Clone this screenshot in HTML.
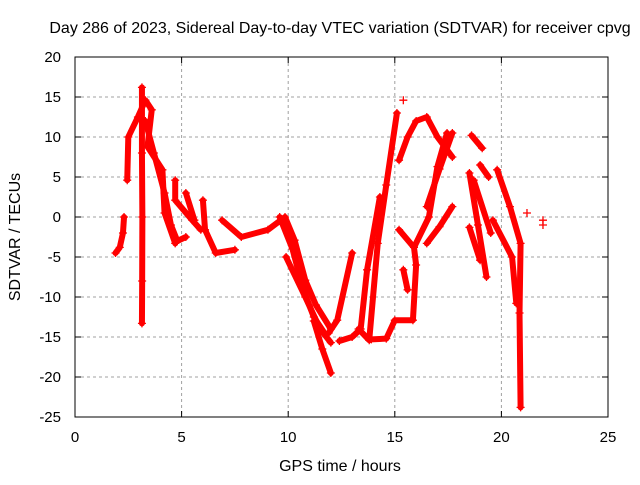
<!DOCTYPE html>
<html><head><meta charset="utf-8"><style>
body{margin:0;background:#fff;}
svg text{font-family:"Liberation Sans",sans-serif;font-size:15px;fill:#000;}
svg text.big{font-size:16px;}
</style></head><body>
<svg id="chart" width="640" height="480">
<text class="big" x="340" y="33" text-anchor="middle">Day 286 of 2023, Sidereal Day-to-day VTEC variation (SDTVAR) for receiver cpvg</text>
<text class="big" x="340" y="471" text-anchor="middle">GPS time / hours</text>
<text class="big" transform="translate(20,237) rotate(-90)" text-anchor="middle">SDTVAR / TECUs</text>
<g id="grid"></g><g id="marks"></g>
<rect x="75" y="57" width="533" height="360" fill="none" stroke="#000" stroke-width="1"/>
</svg>
<script>
const xTicks=[0,5,10,15,20,25];
const yTicks=[20,15,10,5,0,-5,-10,-15,-20,-25];
const trackA=[[1.9,-4.5],[2.1,-3.8],[2.25,-2],[2.3,0]];
const trackB=[[3.14,16.2],[3.14,8],[3.16,0],[3.15,-8],[3.14,-13.3]];
const trackC=[[2.45,4.6],[2.5,10],[2.95,12.5],[3.3,14.6],[3.6,13.4],[3.4,8.8],[4.1,5.9],[4.2,0.5],[4.7,-3.3]];
const trackD=[[3.3,12],[3.7,8],[4.2,3],[4.5,-1],[4.8,-3],[5.2,-2.5]];
const trackE=[[4.7,4.6],[4.7,2.1],[5.5,-0.4],[5.9,-1.6]];
const trackF=[[5.2,3],[5.6,-0.4]];
const trackG=[[6.0,2.1],[6.1,-1.6],[6.6,-4.5],[7.5,-4.1]];
const trackH=[[6.9,-0.4],[7.8,-2.5],[9.05,-1.6],[9.85,0],[10.3,-2.9],[10.8,-7.9],[11.3,-11],[12,-14]];
const trackI=[[9.6,0],[10.2,-4],[10.7,-9],[11.2,-12.5],[11.7,-14.5]];
const trackJ=[[9.9,-5],[10.8,-10],[11.5,-14],[12,-15.7]];
const trackK=[[11.2,-13],[11.6,-16.5],[12,-19.5]];
const trackL=[[11.9,-14.5],[12.3,-12.9],[13.0,-4.5]];
const trackM=[[12.4,-15.5],[13.0,-15],[13.4,-14],[13.7,-6.6],[14.3,2.5]];
const trackN=[[13.3,-14],[13.8,-15.4],[14.2,-3.3],[14.6,4],[15.1,13]];
const trackO=[[13.9,-15.3],[14.6,-15.2],[15.0,-12.9],[15.85,-12.9],[16.0,-6],[15.9,-3.8],[15.2,-1.6]];
const trackP=[[15.9,-3.8],[16.6,0],[17.0,6.3],[17.45,10.5]];
const trackQ=[[16.5,1.3],[17.1,6],[17.7,10.5]];
const trackR=[[16.5,-3.3],[17.1,-1.2],[17.7,1.3]];
const trackS=[[15.2,7.1],[15.6,10],[16.0,12],[16.5,12.5],[17.0,10],[17.7,7.5]];
const trackT=[[18.6,10.2],[19.1,8.6]];
const trackU=[[19.0,6.5],[19.4,5]];
const trackV=[[18.5,5.5],[18.9,-1],[19.3,-7.5]];
const trackW=[[18.7,4.6],[19.5,-2]];
const trackX=[[19.8,5.9],[20.4,1.3],[20.9,-3.3],[20.85,-12],[20.9,-23.8]];
const trackY=[[19.6,-0.4],[20.5,-5],[20.7,-10.8]];
const trackZ=[[18.5,-1.3],[19.0,-5.4]];
const trackSmall=[[15.4,-6.6],[15.6,-9.1]];
const singles=[[15.4,14.6],[21.2,0.5],[21.95,-0.4],[21.95,-1]];
const tracks=[trackA,trackB,trackC,trackD,trackE,trackF,trackG,trackH,trackI,trackJ,trackK,trackL,trackM,trackN,trackO,trackP,trackQ,trackR,trackS,trackT,trackU,trackV,trackW,trackX,trackY,trackZ,trackSmall];

const X0=75,X1=608,Y0=417,Y1=57;
function sx(t){return X0+(t-0)/(25-0)*(X1-X0);}
function sy(v){return Y0-(v+25)/(45)*(Y0-Y1);}
const NS="http://www.w3.org/2000/svg";
const grid=document.getElementById('grid'),marks=document.getElementById('marks');
function mk(tag,attrs,parent){const e=document.createElementNS(NS,tag);for(const k in attrs)e.setAttribute(k,attrs[k]);parent.appendChild(e);return e;}
xTicks.forEach(t=>{
  const x=sx(t);
  if(t>0&&t<25){const g=mk('line',{x1:x,x2:x,y1:Y1,y2:Y0,stroke:'#a0a0a0','stroke-dasharray':'3,3'},grid);
  
  }
  mk('line',{x1:x,x2:x,y1:Y0,y2:Y0-6,stroke:'#000'},grid);
  mk('line',{x1:x,x2:x,y1:Y1,y2:Y1+6,stroke:'#000'},grid);
  const l=mk('text',{x:x,y:442,'text-anchor':'middle'},grid);l.textContent=t;
  
  
});
yTicks.forEach(v=>{
  const y=sy(v);
  if(v>-25&&v<20){const g=mk('line',{x1:X0,x2:X1,y1:y,y2:y,stroke:'#a0a0a0','stroke-dasharray':'3,3'},grid);
  
  }
  mk('line',{x1:X0,x2:X0+6,y1:y,y2:y,stroke:'#000'},grid);
  mk('line',{x1:X1,x2:X1-6,y1:y,y2:y,stroke:'#000'},grid);
  const l=mk('text',{x:61,y:y+5,'text-anchor':'end'},grid);l.textContent=v;
  
  
});
tracks.forEach(tr=>{
  const p=mk('polyline',{points:tr.map(d=>sx(d[0])+','+sy(d[1])).join(' '),fill:'none',stroke:'#ff0000','stroke-width':6,'stroke-linejoin':'round','stroke-linecap':'round'},marks);
  
  
  tr.forEach(d=>{const m=mk('path',{d:`M${sx(d[0])-4},${sy(d[1])}h8M${sx(d[0])},${sy(d[1])-4}v8`,stroke:'#ff0000','stroke-width':1.3},marks);
  
  });
});
singles.forEach(d=>{const m=mk('path',{d:`M${sx(d[0])-4},${sy(d[1])}h8M${sx(d[0])},${sy(d[1])-4}v8`,stroke:'#ff0000','stroke-width':1.3},marks);
  
  });
</script>
</body></html>
